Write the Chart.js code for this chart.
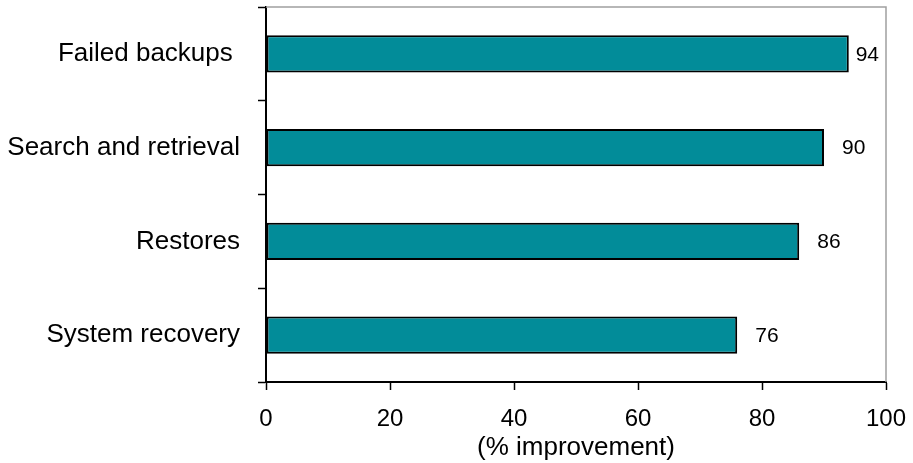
<!DOCTYPE html>
<html>
<head>
<meta charset="utf-8">
<script src="https://cdn.jsdelivr.net/npm/chart.js@4/dist/chart.umd.min.js"></script>
<style>
  html, body { margin: 0; padding: 0; background: #ffffff; }
  #wrap { width: 913px; height: 463px; }
</style>
</head>
<body>
<div id="wrap"><canvas id="c" width="913" height="463"></canvas></div>
<script>
// Improvement by task area, in percent
const categories = ['Failed backups ', 'Search and retrieval', 'Restores', 'System recovery'];
const improvement = [94, 90, 86, 76];
const xTicks = [0, 20, 40, 60, 80, 100];

const FONT = "'Liberation Sans', Arial, sans-serif";

// Grey frame on the top and right of the plot area
const framePlugin = {
  id: 'frame',
  afterDraw(chart) {
    const { ctx, chartArea: a } = chart;
    ctx.save();
    ctx.strokeStyle = '#a0a0a0';
    ctx.lineWidth = 1.5;
    ctx.beginPath();
    ctx.moveTo(a.left, a.top);
    ctx.lineTo(a.right, a.top);
    ctx.lineTo(a.right, a.bottom);
    ctx.stroke();
    ctx.restore();
  }
};

// Value printed past the end of each bar, kept inside the plot frame
const valueLabels = {
  id: 'valueLabels',
  afterDatasetsDraw(chart) {
    const { ctx, chartArea: a } = chart;
    const meta = chart.getDatasetMeta(0);
    ctx.save();
    ctx.font = '21px ' + FONT;
    ctx.fillStyle = '#000000';
    ctx.textAlign = 'left';
    ctx.textBaseline = 'middle';
    meta.data.forEach((bar, i) => {
      const txt = String(improvement[i]);
      const w = ctx.measureText(txt).width;
      const x = Math.min(bar.x + 18, a.right - 7 - w);
      ctx.fillText(txt, x, bar.y + 1);
    });
    ctx.restore();
  }
};

new Chart(document.getElementById('c'), {
  type: 'bar',
  data: {
    labels: categories,
    datasets: [{
      data: improvement,
      backgroundColor: '#028c99',
      borderColor: '#000000',
      borderWidth: 2,
      borderSkipped: false,
      barPercentage: 0.395,
      categoryPercentage: 1.0
    }]
  },
  options: {
    indexAxis: 'y',
    responsive: false,
    animation: false,
    layout: { padding: { left: 0, right: 27, top: 7, bottom: 0 } },
    plugins: { legend: { display: false }, tooltip: { enabled: false } },
    scales: {
      x: {
        min: 0,
        max: 100,
        afterBuildTicks(scale) { scale.ticks = xTicks.map(v => ({ value: v })); },
        afterFit(scale) {
          scale.height = 81;
          scale.paddingLeft = 0;
          scale.paddingRight = 0;
        },
        grid: {
          drawOnChartArea: false,
          drawTicks: true,
          tickLength: 8,
          tickWidth: 1.5,
          tickColor: '#000000'
        },
        border: { display: true, color: '#000000', width: 2 },
        ticks: {
          padding: 15,
          color: '#000000',
          font: { family: FONT, size: 24 }
        },
        title: {
          display: true,
          text: '(% improvement)',
          color: '#000000',
          font: { family: FONT, size: 26 },
          padding: { top: 0, bottom: 0 }
        }
      },
      y: {
        offset: true,
        afterFit(scale) {
          scale.width = 266;
          scale.paddingTop = 0;
          scale.paddingBottom = 0;
        },
        grid: {
          offset: true,
          drawOnChartArea: false,
          drawTicks: true,
          tickLength: 8,
          tickWidth: 1.5,
          tickColor: '#000000'
        },
        border: { display: true, color: '#000000', width: 2 },
        ticks: {
          padding: 18,
          color: '#000000',
          font: { family: FONT, size: 26 }
        }
      }
    }
  },
  plugins: [framePlugin, valueLabels]
});
</script>
</body>
</html>
